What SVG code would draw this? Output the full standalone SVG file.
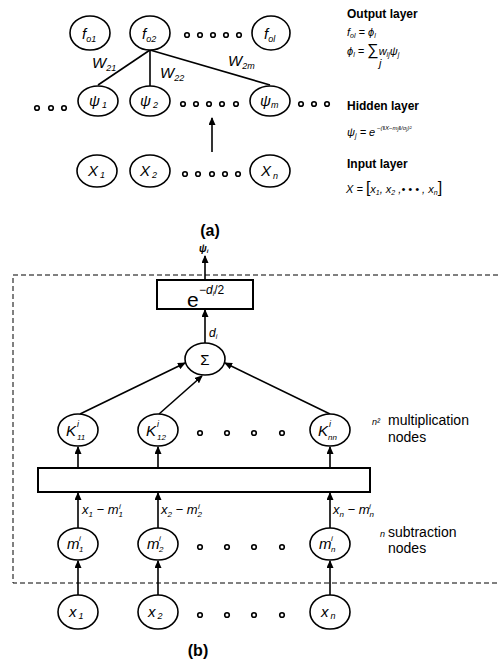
<svg xmlns="http://www.w3.org/2000/svg" width="499" height="664" viewBox="0 0 499 664">
  <style>
    .nd { fill: #fff; stroke: #000; stroke-width: 1.6; }
    .box { fill: #fff; stroke: #000; stroke-width: 2; }
    .dot { fill: #fff; stroke: #000; stroke-width: 1.6; }
    .ln { stroke: #000; stroke-width: 1.6; fill: none; }
    .ar { stroke: #000; stroke-width: 1.6; fill: none; marker-end: url(#head); }
    .dash { fill: none; stroke: #000; stroke-width: 1; stroke-dasharray: 5 3; }
    text { font-family: "Liberation Sans", Arial, sans-serif; fill: #000; }
    .it { font-style: italic; font-size: 15px; }
    .sb { font-size: 9px; }
    .hd { font-weight: bold; font-size: 12px; }
    .eq { font-style: italic; font-size: 11px; }
    .cap { font-weight: bold; font-size: 16px; text-anchor: middle; }
    .note { font-size: 14px; }
  </style>
  <defs>
    <marker id="head" markerUnits="userSpaceOnUse" markerWidth="8" markerHeight="7" refX="7" refY="3.5" orient="auto">
      <path d="M0,0 L8,3.5 L0,7 z" fill="#000"/>
    </marker>
  </defs>

  <!-- ===== (a) RBF network ===== -->
  <g id="connectors-a">
    <line class="ln" x1="150" y1="50" x2="98" y2="85"/>
    <line class="ln" x1="150" y1="50" x2="150" y2="86" stroke-width="2.4"/>
    <line class="ln" x1="150" y1="50" x2="270" y2="85"/>
    <line class="ar" x1="212" y1="152" x2="212" y2="118"/>
  </g>
  <g id="weights">
    <text class="it" x="92" y="68" font-size="13">W<tspan class="sb" dy="3">21</tspan></text>
    <text class="it" x="160" y="78" font-size="13">W<tspan class="sb" dy="3">22</tspan></text>
    <text class="it" x="228" y="66" font-size="13">W<tspan class="sb" dy="3">2m</tspan></text>
  </g>

  <g id="fo1"><ellipse class="nd" cx="90" cy="33" rx="20" ry="17"/><text class="it" x="82" y="39">f<tspan class="sb" dy="3">o1</tspan></text></g>
  <g id="fo2"><ellipse class="nd" cx="150" cy="33" rx="20" ry="17"/><text class="it" x="142" y="39">f<tspan class="sb" dy="3">o2</tspan></text></g>
  <g id="fol"><ellipse class="nd" cx="271" cy="33" rx="19" ry="17"/><text class="it" x="264" y="39">f<tspan class="sb" dy="3">ol</tspan></text></g>
  <g id="dots-out">
    <circle class="dot" cx="187" cy="35" r="2.3"/><circle class="dot" cx="200" cy="35" r="2.3"/><circle class="dot" cx="213" cy="35" r="2.3"/><circle class="dot" cx="226" cy="35" r="2.3"/><circle class="dot" cx="239" cy="35" r="2.3"/>
  </g>

  <g id="psi1"><ellipse class="nd" cx="98" cy="101" rx="20" ry="15"/><text class="it" x="89" y="106">ψ<tspan class="sb" dx="2" dy="2">1</tspan></text></g>
  <g id="psi2"><ellipse class="nd" cx="150" cy="101" rx="20" ry="15"/><text class="it" x="140" y="106">ψ<tspan class="sb" dx="2" dy="2">2</tspan></text></g>
  <g id="psim"><ellipse class="nd" cx="270" cy="101" rx="20" ry="15"/><text class="it" x="260" y="106">ψ<tspan class="sb" dy="2">m</tspan></text></g>
  <g id="dots-hidden">
    <circle class="dot" cx="37" cy="108" r="2.3" fill="#000"/><circle class="dot" cx="51" cy="108" r="2.3"/><circle class="dot" cx="64" cy="108" r="2.3"/>
    <circle class="dot" cx="183" cy="104" r="2.3"/><circle class="dot" cx="196" cy="104" r="2.3"/><circle class="dot" cx="209" cy="104" r="2.3"/><circle class="dot" cx="222" cy="104" r="2.3"/><circle class="dot" cx="236" cy="104" r="2.3"/>
    <circle class="dot" cx="301" cy="104" r="2.3"/><circle class="dot" cx="314" cy="104" r="2.3"/><circle class="dot" cx="327" cy="104" r="2.3" fill="#000"/>
  </g>

  <g id="xa1"><ellipse class="nd" cx="97" cy="171" rx="20" ry="16"/><text class="it" x="88" y="176">X<tspan class="sb" dx="2" dy="2">1</tspan></text></g>
  <g id="xa2"><ellipse class="nd" cx="150" cy="171" rx="20" ry="16"/><text class="it" x="140" y="176">X<tspan class="sb" dx="2" dy="2">2</tspan></text></g>
  <g id="xan"><ellipse class="nd" cx="270" cy="171" rx="20" ry="16"/><text class="it" x="261" y="176">X<tspan class="sb" dx="2" dy="3">n</tspan></text></g>
  <g id="dots-in">
    <circle class="dot" cx="185" cy="174" r="2.3"/><circle class="dot" cx="198" cy="174" r="2.3"/><circle class="dot" cx="212" cy="174" r="2.3"/><circle class="dot" cx="225" cy="174" r="2.3"/><circle class="dot" cx="238" cy="174" r="2.3"/>
  </g>

  <g id="legend-a">
    <text class="hd" x="347" y="18">Output layer</text>
    <text class="eq" x="347" y="36">f<tspan font-size="7" dy="2">ol</tspan><tspan dy="-2"> = ϕ</tspan><tspan font-size="7" dy="2">l</tspan></text>
    <text class="eq" x="347" y="55">ϕ<tspan font-size="7" dy="2">l</tspan><tspan dy="-2"> = </tspan><tspan font-size="16" font-style="normal">∑</tspan><tspan>w</tspan><tspan font-size="7" dy="2">lj</tspan><tspan dy="-2">ψ</tspan><tspan font-size="7" dy="2">j</tspan></text>
    <text class="eq" x="379" y="67" font-size="6">j</text>
    <text class="hd" x="347" y="110">Hidden layer</text>
    <text class="eq" x="347" y="136">ψ<tspan font-size="7" dy="2">j</tspan><tspan dy="-2"> = e</tspan><tspan font-size="6" dy="-6"> −(‖X−m</tspan><tspan font-size="5" dy="1">j</tspan><tspan font-size="6" dy="-1">‖/σ</tspan><tspan font-size="5" dy="1">j</tspan><tspan font-size="6" dy="-1">)²</tspan></text>
    <text class="hd" x="347" y="168">Input layer</text>
    <text class="eq" x="346" y="193">X = <tspan font-size="16" font-style="normal">[</tspan><tspan>x</tspan><tspan font-size="7" dy="2">1</tspan><tspan dy="-2">, x</tspan><tspan font-size="7" dy="2">2</tspan><tspan dy="-2"> ,• • • , x</tspan><tspan font-size="7" dy="2">n</tspan><tspan dy="-2" font-size="16" font-style="normal">]</tspan></text>
  </g>
  <text class="cap" x="210" y="236" font-size="15">(a)</text>

  <!-- ===== (b) single hidden neuron ===== -->
  <rect id="neuron-frame" class="dash" x="13" y="275" width="500" height="308"/>

  <g id="connectors-b">
    <line class="ar" x1="205" y1="280" x2="205" y2="256"/>
    <line class="ar" x1="205" y1="343" x2="205" y2="310"/>
    <line class="ar" x1="80" y1="414" x2="185" y2="363"/>
    <line class="ar" x1="159" y1="414" x2="202" y2="376"/>
    <line class="ar" x1="330" y1="414" x2="225" y2="363"/>
    <line class="ar" x1="78" y1="468" x2="78" y2="447"/>
    <line class="ar" x1="158" y1="468" x2="158" y2="447"/>
    <line class="ar" x1="330" y1="468" x2="330" y2="447"/>
    <line class="ar" x1="78" y1="528" x2="78" y2="493"/>
    <line class="ar" x1="158" y1="528" x2="158" y2="493"/>
    <line class="ar" x1="330" y1="528" x2="330" y2="493"/>
    <line class="ar" x1="78" y1="595" x2="78" y2="561"/>
    <line class="ar" x1="158" y1="595" x2="158" y2="561"/>
    <line class="ar" x1="330" y1="595" x2="330" y2="561"/>
  </g>

  <text id="out-label" x="199" y="252" font-style="italic" font-weight="bold" font-size="10">ψ<tspan font-size="6" dy="1">i</tspan></text>

  <g id="gauss">
    <rect class="box" x="157" y="280" width="96" height="29"/>
    <text x="187" y="307" font-size="21">e</text>
    <text x="199" y="294" font-size="12" font-style="italic">−d<tspan font-size="7" dy="2">i</tspan><tspan dy="-2" font-style="normal">/2</tspan></text>
  </g>
  <text id="d-label" x="209" y="337" font-size="12" font-style="italic">d<tspan font-size="7" dy="2">i</tspan></text>

  <g id="sum"><ellipse class="nd" cx="205" cy="359" rx="20" ry="16"/><text x="205" y="365" font-size="15" text-anchor="middle">Σ</text></g>

  <g id="k11"><ellipse class="nd" cx="78" cy="430" rx="20" ry="16"/><text class="it" x="66" y="436" font-size="14">K</text><text x="77" y="427" font-size="9" font-style="italic">i</text><text x="77" y="440" font-size="8" font-style="italic">11</text></g>
  <g id="k12"><ellipse class="nd" cx="158" cy="430" rx="20" ry="16"/><text class="it" x="146" y="436" font-size="14">K</text><text x="157" y="427" font-size="9" font-style="italic">i</text><text x="157" y="440" font-size="8" font-style="italic">12</text></g>
  <g id="knn"><ellipse class="nd" cx="330" cy="430" rx="20" ry="16"/><text class="it" x="318" y="436" font-size="14">K</text><text x="329" y="427" font-size="9" font-style="italic">i</text><text x="328" y="440" font-size="8" font-style="italic">nn</text></g>
  <g id="dots-k">
    <circle class="dot" cx="200" cy="433" r="2.3"/><circle class="dot" cx="227" cy="433" r="2.3"/><circle class="dot" cx="254" cy="433" r="2.3"/><circle class="dot" cx="282" cy="433" r="2.3"/>
  </g>
  <g id="mult-note">
    <text x="372" y="425" font-size="9" font-style="italic">n²</text>
    <text class="note" x="388" y="425">multiplication</text>
    <text class="note" x="388" y="442">nodes</text>
  </g>

  <rect id="product-bar" class="box" x="38" y="468" width="332" height="24"/>

  <g id="diffs">
    <text x="82" y="514" font-size="13" font-style="italic">x<tspan font-size="8" dy="3">1</tspan><tspan dy="-3"> − m</tspan><tspan font-size="8" dy="3">1</tspan><tspan font-size="8" dx="-4" dy="-8">i</tspan></text>
    <text x="161" y="514" font-size="13" font-style="italic">x<tspan font-size="8" dy="3">2</tspan><tspan dy="-3"> − m</tspan><tspan font-size="8" dy="3">2</tspan><tspan font-size="8" dx="-4" dy="-8">i</tspan></text>
    <text x="333" y="514" font-size="13" font-style="italic">x<tspan font-size="8" dy="3">n</tspan><tspan dy="-3"> − m</tspan><tspan font-size="8" dy="3">n</tspan><tspan font-size="8" dx="-5" dy="-8">i</tspan></text>
  </g>

  <g id="m1"><ellipse class="nd" cx="78" cy="544" rx="20" ry="16"/><text class="it" x="67" y="549" font-size="14">m</text><text x="79" y="552" font-size="8" font-style="italic">1</text><text x="79" y="541" font-size="8" font-style="italic">i</text></g>
  <g id="m2"><ellipse class="nd" cx="158" cy="544" rx="20" ry="16"/><text class="it" x="147" y="549" font-size="14">m</text><text x="159" y="552" font-size="8" font-style="italic">2</text><text x="159" y="541" font-size="8" font-style="italic">i</text></g>
  <g id="mn"><ellipse class="nd" cx="330" cy="544" rx="20" ry="16"/><text class="it" x="319" y="549" font-size="14">m</text><text x="331" y="552" font-size="8" font-style="italic">n</text><text x="331" y="541" font-size="8" font-style="italic">i</text></g>
  <g id="dots-m">
    <circle class="dot" cx="200" cy="547" r="2.3"/><circle class="dot" cx="227" cy="547" r="2.3"/><circle class="dot" cx="254" cy="547" r="2.3"/><circle class="dot" cx="282" cy="547" r="2.3"/>
  </g>
  <g id="sub-note">
    <text x="380" y="537" font-size="9" font-style="italic">n</text>
    <text class="note" x="388" y="537">subtraction</text>
    <text class="note" x="388" y="553">nodes</text>
  </g>

  <g id="xb1"><ellipse class="nd" cx="78" cy="612" rx="20" ry="17"/><text class="it" x="69" y="617">x<tspan class="sb" dx="2" dy="2">1</tspan></text></g>
  <g id="xb2"><ellipse class="nd" cx="158" cy="612" rx="20" ry="17"/><text class="it" x="148" y="617">x<tspan class="sb" dx="2" dy="2">2</tspan></text></g>
  <g id="xbn"><ellipse class="nd" cx="330" cy="612" rx="20" ry="17"/><text class="it" x="321" y="617">x<tspan class="sb" dx="2" dy="2">n</tspan></text></g>
  <g id="dots-x">
    <circle class="dot" cx="200" cy="615" r="2.3"/><circle class="dot" cx="227" cy="615" r="2.3"/><circle class="dot" cx="254" cy="615" r="2.3"/><circle class="dot" cx="282" cy="615" r="2.3"/>
  </g>

  <text class="cap" x="198" y="656">(b)</text>
</svg>
